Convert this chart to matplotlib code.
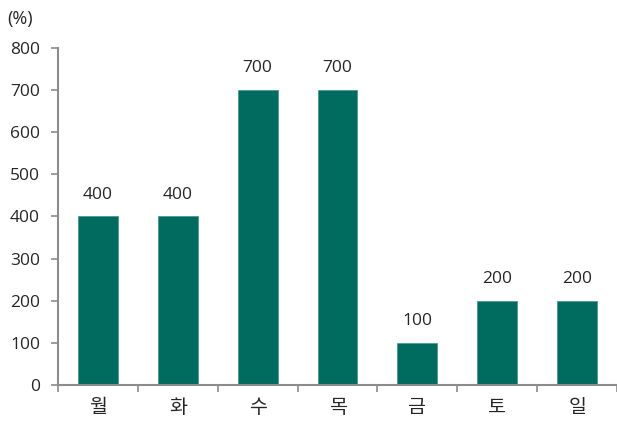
import numpy as np
import matplotlib.pyplot as plt

plt.rcParams['font.family'] = ['Open Sans', 'Noto Sans CJK KR', 'DejaVu Sans']

days = ['월', '화', '수', '목', '금', '토', '일']
values = [400, 400, 700, 700, 100, 200, 200]
yticks = [0, 100, 200, 300, 400, 500, 600, 700, 800]

bar_color = '#006b5f'
axis_color = '#8c8c8c'
text_color = '#262626'

fig = plt.figure(figsize=(6.17, 4.21), dpi=100)
ax = fig.add_axes([0.094, 0.0855, 0.906, 0.8005])

x = np.arange(len(days))
ax.bar(x, values, width=0.5, color=bar_color, edgecolor='#4f9a90', linewidth=0.6)

for xi, v in zip(x, values):
    ax.text(xi, v + 33, str(v), ha='center', va='bottom', fontsize=12.5, color=text_color)

ax.set_xlim(-0.5, len(days) - 0.5)
ax.set_ylim(0, 800)
ax.set_yticks(yticks)
ax.set_xticks(x)
ax.set_xticklabels(days)
ax.set_xticks(np.arange(-0.5, len(days)), minor=True)

ax.tick_params(axis='x', which='major', length=0, pad=10, labelsize=14, labelcolor=text_color)
ax.tick_params(axis='x', which='minor', length=5, width=1.2, color=axis_color, direction='out')
ax.tick_params(axis='y', length=5, width=1.2, color=axis_color, pad=8, labelsize=12.5, labelcolor=text_color)

for s in ['top', 'right']:
    ax.spines[s].set_visible(False)
for s in ['left', 'bottom']:
    ax.spines[s].set_color(axis_color)
    ax.spines[s].set_linewidth(1.5)

fig.text(0.012, 0.955, '(%)', fontsize=13, color=text_color, ha='left', va='center')

fig.savefig('out.png', dpi=100)
